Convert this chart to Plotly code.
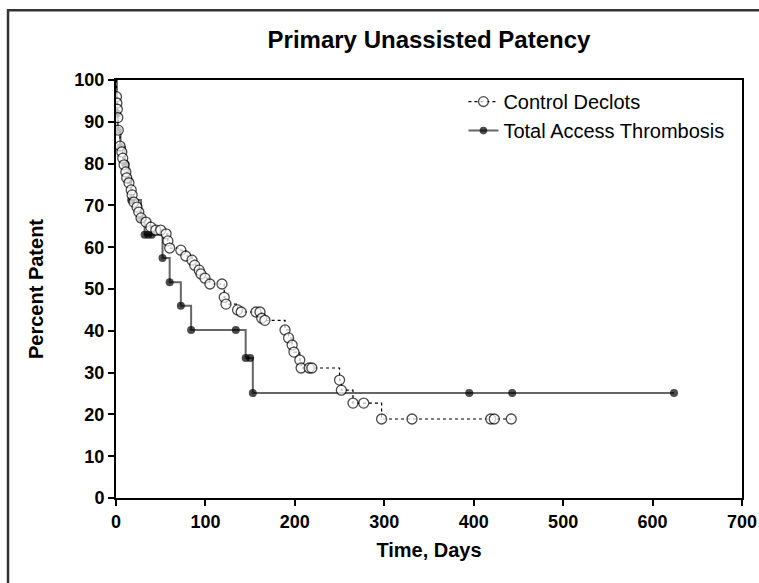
import plotly.graph_objects as go

# Control Declots (open circles, dotted step line)
ctrl_days = [0, 0.5, 1, 1.5, 2, 2.5, 4.5, 6.5, 7.5, 9, 11, 12, 14.5, 17, 18, 20, 23.5, 25.5, 28,
             33.5, 39, 44.5, 50, 56, 58, 60, 72.5, 78, 85, 88, 93, 95, 99.5, 105, 118.5, 121, 123,
             136, 140, 156.5, 161, 163, 166.5, 189, 193, 197, 199, 205.5, 207, 216, 219, 250, 252,
             265, 277, 297, 331, 419, 423, 442]
ctrl_pct = [100, 96, 94.5, 93, 91, 88, 84.2, 82.8, 81.3, 79.7, 78, 76.6, 75.4, 73.7, 72.5, 70.8, 69.6, 68.4, 67,
            66, 64.8, 64.1, 64.1, 63.2, 61.5, 59.8, 59.3, 57.9, 56.9, 55.7, 54.5, 53.6, 52.6, 51.2, 51.2, 48, 46.4,
            45, 44.5, 44.5, 44.5, 43, 42.5, 40.2, 38.3, 36.6, 34.9, 33, 31.1, 31.1, 31.1, 28.2, 25.8,
            22.7, 22.7, 18.9, 18.9, 18.9, 18.9, 18.9]

# Total Access Thrombosis (filled circles, solid step line)
tat_days = [0, 1, 2, 5, 10, 14, 17, 28, 32, 36, 40, 52, 60, 72.5, 84, 134, 145, 150, 153, 395, 443, 624]
tat_pct = [100, 92, 88, 84, 80, 76, 71.3, 67, 63, 63, 63, 57.4, 51.6, 46, 40.2, 40.2, 33.5, 33.5, 25.1,
           25.1, 25.1, 25.1]

x_ticks = [0, 100, 200, 300, 400, 500, 600, 700]
y_ticks = [0, 10, 20, 30, 40, 50, 60, 70, 80, 90, 100]

FONT = "Arial, 'Liberation Sans', sans-serif"

fig = go.Figure()

fig.add_trace(go.Scatter(
    x=tat_days, y=tat_pct, mode="lines+markers", name="Total Access Thrombosis",
    line=dict(shape="hv", color="#666666", width=2),
    marker=dict(symbol="circle", color="black", size=[0] + [8] * (len(tat_days) - 1),
                line=dict(width=0)),
))

fig.add_trace(go.Scatter(
    x=ctrl_days, y=ctrl_pct, mode="lines+markers", name="Control Declots",
    line=dict(shape="hv", color="black", width=1.2, dash="dot"),
    marker=dict(symbol="circle", color="white", size=[0] + [10] * (len(ctrl_days) - 1),
                line=dict(color="black", width=1.3)),
))

fig.update_layout(
    width=759, height=583,
    margin=dict(l=116, r=17, t=80, b=85, autoexpand=False),
    paper_bgcolor="white", plot_bgcolor="white",
    font=dict(family=FONT, color="black"),
    title=dict(text="<b>Primary Unassisted Patency</b>", x=0.5, xref="paper", xanchor="center",
               y=1 - 40 / 583, yref="container", yanchor="middle", automargin=False,
               font=dict(size=24, family=FONT)),
    showlegend=True,
    legend=dict(x=0.555, y=0.995, xanchor="left", yanchor="top", traceorder="reversed",
                font=dict(size=20, family=FONT), bgcolor="rgba(0,0,0,0)", itemwidth=30,
                tracegroupgap=0),
)

fig.update_xaxes(
    range=[0, 700], tickvals=x_ticks, ticktext=[str(v) for v in x_ticks], automargin=False,
    showgrid=False, zeroline=False, showline=True, linecolor="black", linewidth=2, mirror=True,
    ticks="outside", ticklen=6, tickwidth=2, tickcolor="black",
    tickfont=dict(size=18, family=FONT, weight="bold"),
    title=dict(text="<b>Time, Days</b>", font=dict(size=20, family=FONT), standoff=12),
)
fig.update_yaxes(
    range=[0, 100], tickvals=y_ticks, ticktext=[str(v) for v in y_ticks], automargin=False,
    showgrid=False, zeroline=False, showline=True, linecolor="black", linewidth=2, mirror=True,
    ticks="outside", ticklen=6, tickwidth=2, tickcolor="black",
    tickfont=dict(size=18, family=FONT, weight="bold"),
    title=dict(text="<b>Percent Patent</b>", font=dict(size=20, family=FONT), standoff=25),
)

# outer frame of the figure
fig.add_shape(type="rect", xref="paper", yref="paper",
              x0=-0.1725, x1=1.05, y0=-0.25, y1=1.167,
              line=dict(color="#333333", width=2.5), fillcolor="rgba(0,0,0,0)", layer="above")

fig.write_html("out.html",
               config={"displayModeBar": False},
               post_script="document.body.style.margin='0';document.body.style.overflow='hidden';")
